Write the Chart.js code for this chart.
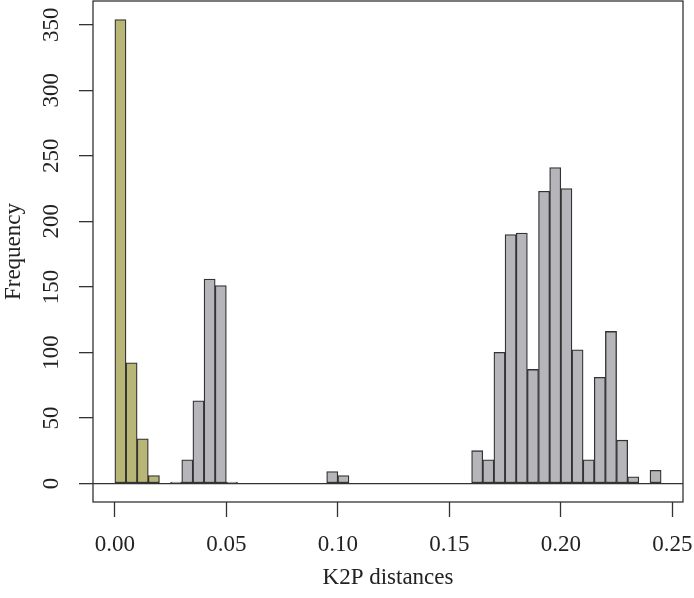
<!DOCTYPE html>
<html>
<head>
<meta charset="utf-8">
<script src="https://cdn.jsdelivr.net/npm/chart.js@4/dist/chart.umd.min.js"></script>
<style>
  html, body { margin: 0; padding: 0; background: #fff; }
  #wrap { width: 694px; height: 598px; }
</style>
</head>
<body>
<div id="wrap"><canvas id="hist"></canvas></div>
<script>
// left edge of each 0.005-wide bin of K2P distance
var binStarts = [
  0.000, 0.005, 0.010, 0.015, 0.020, 0.025, 0.030, 0.035, 0.040, 0.045,
  0.050, 0.055, 0.060, 0.065, 0.070, 0.075, 0.080, 0.085, 0.090, 0.095,
  0.100, 0.105, 0.110, 0.115, 0.120, 0.125, 0.130, 0.135, 0.140, 0.145,
  0.150, 0.155, 0.160, 0.165, 0.170, 0.175, 0.180, 0.185, 0.190, 0.195,
  0.200, 0.205, 0.210, 0.215, 0.220, 0.225, 0.230, 0.235, 0.240, 0.245
];
var binWidth = 0.005;

// intraspecific distances (olive bars)
var intraCounts = [
  354, 92, 34, 6, 0, 0, 0, 0, 0, 0,
  0, 0, 0, 0, 0, 0, 0, 0, 0, 0,
  0, 0, 0, 0, 0, 0, 0, 0, 0, 0,
  0, 0, 0, 0, 0, 0, 0, 0, 0, 0,
  0, 0, 0, 0, 0, 0, 0, 0, 0, 0
];

// interspecific distances (grey bars)
var interCounts = [
  0, 0, 0, 0, 0, 1, 18, 63, 156, 151,
  1, 0, 0, 0, 0, 0, 0, 0, 0, 9,
  6, 0, 0, 0, 0, 0, 0, 0, 0, 0,
  0, 0, 25, 18, 100, 190, 191, 87, 223, 241,
  225, 102, 18, 81, 116, 33, 5, 0, 10, 0
];

var xTicks = [0, 0.05, 0.10, 0.15, 0.20, 0.25];
var yTicks = [0, 50, 100, 150, 200, 250, 300, 350];

function toPoints(counts) {
  return counts.map(function(c, i) {
    return { x: binStarts[i] + binWidth / 2, y: c === 0 ? null : c };
  });
}

var ink = '#333333';
var font = { family: '"Liberation Serif", "Times New Roman", serif', size: 23 };

// R-style frame around the plotting region
var boxPlugin = {
  id: 'box',
  afterDraw: function(chart) {
    var a = chart.chartArea, ctx = chart.ctx;
    ctx.save();
    ctx.strokeStyle = ink;
    ctx.lineWidth = 1.3;
    ctx.strokeRect(a.left, a.top, a.right - a.left, a.bottom - a.top);
    ctx.restore();
  }
};

var ctx = document.getElementById('hist');
var chart = new Chart(ctx, {
  type: 'bar',
  data: {
    datasets: [{
      label: 'intra',
      data: toPoints(intraCounts),
      backgroundColor: '#b7b677',
      borderColor: ink,
      borderWidth: 1.3,
      borderSkipped: false,
      barPercentage: 1,
      categoryPercentage: 1,
      grouped: false
    }, {
      label: 'inter',
      data: toPoints(interCounts),
      backgroundColor: '#b6b6ba',
      borderColor: ink,
      borderWidth: 1.3,
      borderSkipped: false,
      barPercentage: 1,
      categoryPercentage: 1,
      grouped: false
    }]
  },
  options: {
    responsive: true,
    maintainAspectRatio: false,
    animation: false,
    layout: { padding: { top: 1, right: 11, left: 0, bottom: 0 } },
    plugins: {
      legend: { display: false },
      tooltip: { enabled: false }
    },
    scales: {
      x: {
        type: 'linear',
        offset: false,
        min: -0.0098,
        max: 0.2548,
        afterBuildTicks: function(scale) {
          scale.ticks = xTicks.map(function(v) { return { value: v }; });
        },
        afterFit: function(scale) {
          scale.height = 96;
          scale.paddingLeft = 0;
          scale.paddingRight = 0;
        },
        border: { display: false },
        grid: {
          offset: false,
          drawOnChartArea: false,
          drawTicks: true,
          tickLength: 15,
          tickColor: ink,
          tickWidth: 1.3
        },
        ticks: {
          color: '#222',
          font: font,
          padding: 14,
          maxRotation: 0,
          autoSkip: false,
          callback: function(v) { return v.toFixed(2); }
        },
        title: {
          display: true,
          text: 'K2P distances',
          color: '#222',
          font: font,
          padding: { top: 0, bottom: 6 }
        }
      },
      y: {
        min: -14.16,
        max: 368.16,
        afterBuildTicks: function(scale) {
          scale.ticks = yTicks.map(function(v) { return { value: v }; });
        },
        afterFit: function(scale) {
          scale.width = 93;
          scale.paddingTop = 0;
          scale.paddingBottom = 0;
        },
        border: { display: false },
        grid: {
          drawTicks: true,
          tickLength: 14,
          tickColor: ink,
          tickWidth: 1.3,
          lineWidth: 1.3,
          color: function(c) { return c.tick && c.tick.value === 0 ? ink : 'rgba(0,0,0,0)'; }
        },
        ticks: {
          color: '#222',
          font: font,
          padding: 10,
          crossAlign: 'center',
          minRotation: 90,
          maxRotation: 90,
          autoSkip: false
        },
        title: {
          display: true,
          text: 'Frequency',
          color: '#222',
          font: font,
          padding: { top: 0, bottom: 0 }
        }
      }
    }
  },
  plugins: [boxPlugin]
});
</script>
</body>
</html>
